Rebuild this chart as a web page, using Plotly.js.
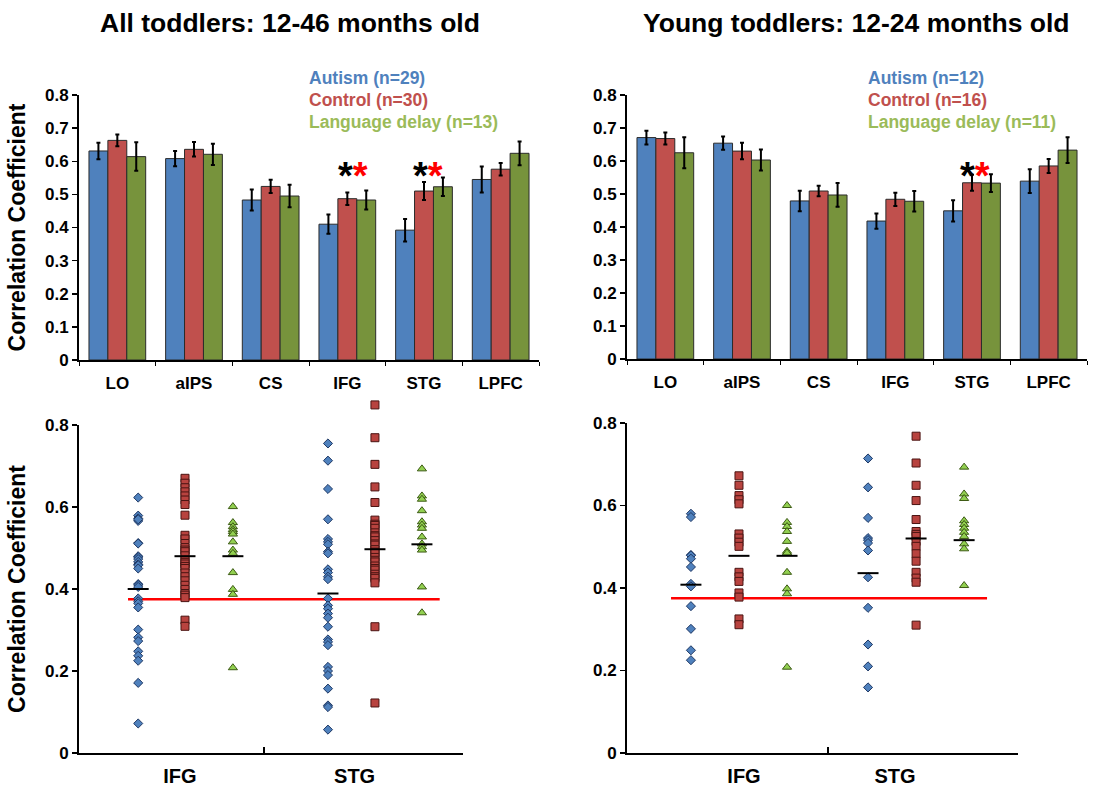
<!DOCTYPE html>
<html>
<head>
<meta charset="utf-8">
<script src="https://cdn.plot.ly/plotly-3.0.1.min.js"></script>
<style>html,body{margin:0;padding:0;background:#fff;}#chart{width:1114px;height:788px;}</style>
</head>
<body>
<div id="chart"></div>
<script>
// ---------------- DATA ----------------
const regions = ['LO', 'aIPS', 'CS', 'IFG', 'STG', 'LPFC'];
const scatterRegions = ['IFG', 'STG'];
const groupNames = ['Autism', 'Control', 'Language delay'];

// All toddlers (12-46 months): bar means and error half-widths
const allAutism = [0.631, 0.608, 0.483, 0.410, 0.392, 0.545];
const allAutismErr = [0.025, 0.023, 0.032, 0.029, 0.034, 0.039];
const allControl = [0.663, 0.636, 0.524, 0.487, 0.510, 0.576];
const allControlErr = [0.018, 0.022, 0.020, 0.019, 0.027, 0.019];
const allDelay = [0.614, 0.621, 0.495, 0.483, 0.523, 0.624];
const allDelayErr = [0.043, 0.032, 0.034, 0.029, 0.028, 0.036];
const allN = [29, 30, 13];

// Young toddlers (12-24 months)
const youngAutism = [0.671, 0.654, 0.479, 0.418, 0.449, 0.539];
const youngAutismErr = [0.021, 0.020, 0.031, 0.023, 0.032, 0.036];
const youngControl = [0.668, 0.630, 0.509, 0.484, 0.534, 0.585];
const youngControlErr = [0.018, 0.025, 0.016, 0.020, 0.024, 0.021];
const youngDelay = [0.625, 0.603, 0.497, 0.478, 0.533, 0.633];
const youngDelayErr = [0.047, 0.032, 0.036, 0.031, 0.027, 0.039];
const youngN = [12, 16, 11];

// Individual correlation coefficients (all toddlers)
const allIFGAutism = [0.623, 0.579, 0.572, 0.566, 0.512, 0.511, 0.480, 0.478, 0.473, 0.466, 0.460, 0.458, 0.450, 0.412, 0.410, 0.405, 0.377, 0.370, 0.365, 0.355, 0.301, 0.282, 0.273, 0.248, 0.237, 0.225, 0.171, 0.072, 0.570];
const allIFGControl = [0.670, 0.658, 0.647, 0.637, 0.627, 0.617, 0.606, 0.580, 0.531, 0.522, 0.511, 0.501, 0.495, 0.491, 0.481, 0.470, 0.465, 0.461, 0.455, 0.450, 0.439, 0.430, 0.420, 0.409, 0.399, 0.389, 0.385, 0.379, 0.324, 0.309];
const allIFGDelay = [0.601, 0.562, 0.552, 0.545, 0.540, 0.534, 0.515, 0.495, 0.487, 0.440, 0.399, 0.387, 0.208];
const allSTGAutism = [0.755, 0.713, 0.644, 0.570, 0.522, 0.515, 0.509, 0.491, 0.487, 0.448, 0.440, 0.430, 0.424, 0.377, 0.360, 0.352, 0.340, 0.330, 0.308, 0.277, 0.271, 0.263, 0.210, 0.200, 0.190, 0.157, 0.116, 0.112, 0.057];
const allSTGControl = [0.849, 0.769, 0.704, 0.649, 0.611, 0.568, 0.558, 0.555, 0.548, 0.537, 0.530, 0.527, 0.518, 0.510, 0.507, 0.496, 0.490, 0.487, 0.477, 0.470, 0.466, 0.456, 0.450, 0.446, 0.436, 0.430, 0.426, 0.415, 0.308, 0.122];
const allSTGDelay = [0.693, 0.627, 0.619, 0.591, 0.564, 0.556, 0.548, 0.527, 0.510, 0.503, 0.495, 0.405, 0.342];
// group means drawn as dashes (all toddlers): [IFG, STG]
const allMeanAutism = [0.400, 0.389];
const allMeanControl = [0.480, 0.497];
const allMeanDelay = [0.480, 0.509];

// Individual correlation coefficients (young toddlers)
const youngIFGAutism = [0.580, 0.572, 0.480, 0.479, 0.471, 0.451, 0.410, 0.404, 0.356, 0.301, 0.249, 0.225];
const youngIFGControl = [0.672, 0.649, 0.624, 0.614, 0.604, 0.531, 0.521, 0.511, 0.501, 0.438, 0.427, 0.416, 0.388, 0.378, 0.325, 0.311];
const youngIFGDelay = [0.600, 0.559, 0.549, 0.537, 0.513, 0.489, 0.485, 0.438, 0.398, 0.386, 0.208];
const youngSTGAutism = [0.714, 0.644, 0.570, 0.521, 0.516, 0.509, 0.491, 0.426, 0.352, 0.263, 0.210, 0.159];
const youngSTGControl = [0.768, 0.703, 0.649, 0.612, 0.566, 0.537, 0.530, 0.525, 0.513, 0.501, 0.483, 0.465, 0.438, 0.424, 0.414, 0.310];
const youngSTGDelay = [0.693, 0.628, 0.617, 0.563, 0.554, 0.545, 0.535, 0.525, 0.507, 0.495, 0.406];
const youngMeanAutism = [0.408, 0.436];
const youngMeanControl = [0.478, 0.520];
const youngMeanDelay = [0.478, 0.516];

const threshold = 0.375;
const panelTitles = ['All toddlers: 12-46 months old', 'Young toddlers: 12-24 months old'];
const yTitle = 'Correlation Coefficient';

// ---------------- STYLE / LAYOUT CONFIG ----------------
const FONT = 'Liberation Sans, Arial, sans-serif';
const barColors = ['#4f81bd', '#c0504d', '#77933c'];
const legendColors = ['#4f81bd', '#c0504d', '#9bbb59'];
const markerFill = ['#4f81bd', '#b8433f', '#92d050'];
const markerLine = ['#1f3864', '#4a1412', '#3c5a14'];
const markerSymbol = ['diamond', 'square', 'triangle-up'];
const markerSize = [7, 8, 8];

// positions of the dot columns along the scatter x axes (in axis units)
// left panel markers live on a hidden y axis with the same scale but a taller range,
// so that values above 0.8 stay visible while the drawn axis stops at 0.8
const scatterCfg = [
  {xa: 'x3', ya: 'y5', groupX: [[0.32, 0.573, 0.832], [1.346, 1.6, 1.854]], labelX: [0.546, 1.49], range: [0, 2.076], bounds: [1, 2.076], redX: [0.265, 1.95]},
  {xa: 'x4', ya: 'y4', groupX: [[0.318, 0.557, 0.796], [1.199, 1.438, 1.677]], labelX: [0.582, 1.333], range: [0, 1.945], bounds: [1, 1.945], redX: [0.219, 1.791]}
];

const traces = [];

function addBars(vals, errs, xa, ya) {
  vals.forEach((v, g) => {
    traces.push({
      type: 'bar', x: regions, y: v, xaxis: xa, yaxis: ya, name: groupNames[g], showlegend: false,
      marker: {color: barColors[g], line: {color: '#2b2b2b', width: 1}},
      error_y: {type: 'data', array: errs[g], visible: true, color: '#000', thickness: 2, width: 2}
    });
  });
}
addBars([allAutism, allControl, allDelay], [allAutismErr, allControlErr, allDelayErr], 'x', 'y');
addBars([youngAutism, youngControl, youngDelay], [youngAutismErr, youngControlErr, youngDelayErr], 'x2', 'y2');

function addScatter(cfg, sets, means) {
  traces.push({
    type: 'scatter', mode: 'lines', x: cfg.redX, y: [threshold, threshold], xaxis: cfg.xa, yaxis: cfg.ya,
    showlegend: false, line: {color: '#ff0000', width: 2.5}, hoverinfo: 'skip'
  });
  for (let g = 0; g < 3; g++) {
    const xs = [], ys = [];
    sets.forEach((reg, r) => reg[g].forEach(v => { xs.push(cfg.groupX[r][g]); ys.push(v); }));
    traces.push({
      type: 'scatter', mode: 'markers', x: xs, y: ys, xaxis: cfg.xa, yaxis: cfg.ya, showlegend: false, cliponaxis: false,
      name: groupNames[g],
      marker: {symbol: markerSymbol[g], size: markerSize[g], color: markerFill[g], line: {color: markerLine[g], width: 1}}
    });
  }
  const mx = [], my = [];
  for (let r = 0; r < 2; r++) for (let g = 0; g < 3; g++) { mx.push(cfg.groupX[r][g]); my.push(means[g][r]); }
  traces.push({
    type: 'scatter', mode: 'markers', x: mx, y: my, xaxis: cfg.xa, yaxis: cfg.ya, showlegend: false, name: 'mean',
    marker: {symbol: 'line-ew', size: 15, line: {color: '#000', width: 2}}
  });
}
addScatter(scatterCfg[0],
  [[allIFGAutism, allIFGControl, allIFGDelay], [allSTGAutism, allSTGControl, allSTGDelay]],
  [allMeanAutism, allMeanControl, allMeanDelay]);
addScatter(scatterCfg[1],
  [[youngIFGAutism, youngIFGControl, youngIFGDelay], [youngSTGAutism, youngSTGControl, youngSTGDelay]],
  [youngMeanAutism, youngMeanControl, youngMeanDelay]);

// empty traces so that the axis-only subplots are drawn
traces.push({type: 'scatter', mode: 'markers', x: [], y: [], xaxis: 'x3', yaxis: 'y3', showlegend: false});
traces.push({type: 'scatter', mode: 'markers', x: [], y: [], xaxis: 'x5', yaxis: 'y3', showlegend: false});
traces.push({type: 'scatter', mode: 'markers', x: [], y: [], xaxis: 'x6', yaxis: 'y4', showlegend: false});

const W = 1114, H = 788;
const px = v => v / W, py = v => 1 - v / H;
const scatPxPerUnit = (753 - 425) / 0.8;
const tallTop = 0.88;

const tickFont = {family: FONT, size: 17, color: '#000', weight: 'bold'};
const baseY = {
  showgrid: false, zeroline: false, showline: true, linecolor: '#000', linewidth: 2,
  ticks: 'outside', ticklen: 5, tickwidth: 1.5, tickcolor: '#000', tickfont: tickFont, fixedrange: true
};
const barX = {
  type: 'category', showgrid: false, zeroline: false, showline: true, linecolor: '#000', linewidth: 2,
  ticks: 'outside', tickson: 'boundaries', ticklen: 4, tickwidth: 1, tickcolor: '#000',
  tickfont: tickFont, ticklabelstandoff: 7, fixedrange: true
};
const scatX = {
  type: 'linear', showgrid: false, zeroline: false, showline: true, linecolor: '#000', linewidth: 2,
  ticks: '', tickfont: {family: FONT, size: 20, color: '#000', weight: 'bold'}, ticklabelstandoff: 4,
  tickmode: 'array', ticktext: scatterRegions, fixedrange: true
};
const yTitleObj = {text: yTitle, font: {family: FONT, size: 23, color: '#000', weight: 'bold'}, standoff: 13};

const layout = {
  width: W, height: H, margin: {l: 0, r: 0, t: 0, b: 0}, paper_bgcolor: '#fff', plot_bgcolor: 'rgba(0,0,0,0)',
  font: {family: FONT}, showlegend: false, bargap: 0.26, bargroupgap: 0, barmode: 'group', hovermode: false,
  xaxis: Object.assign({}, barX, {domain: [px(79), px(539)], anchor: 'y'}),
  yaxis: Object.assign({}, baseY, {domain: [py(360), py(95)], range: [0, 0.8], dtick: 0.1, tick0: 0, anchor: 'x', title: yTitleObj}),
  xaxis2: Object.assign({}, barX, {domain: [px(627), px(1087)], anchor: 'y2'}),
  yaxis2: Object.assign({}, baseY, {domain: [py(359), py(95)], range: [0, 0.8], dtick: 0.1, tick0: 0, anchor: 'x2'}),
  xaxis3: Object.assign({}, scatX, {domain: [px(79), px(463)], anchor: 'y3', range: scatterCfg[0].range, tickvals: scatterCfg[0].labelX}),
  yaxis3: Object.assign({}, baseY, {domain: [py(753), py(425)], range: [0, 0.8], dtick: 0.2, tick0: 0, anchor: 'x3', title: yTitleObj}),
  yaxis5: {domain: [py(753), py(753 - tallTop * scatPxPerUnit)], range: [0, tallTop], anchor: 'x3', visible: false, fixedrange: true},
  xaxis4: Object.assign({}, scatX, {domain: [px(627), px(1018)], anchor: 'y4', range: scatterCfg[1].range, tickvals: scatterCfg[1].labelX}),
  yaxis4: Object.assign({}, baseY, {domain: [py(753), py(423)], range: [0, 0.8], dtick: 0.2, tick0: 0, anchor: 'x4'}),
  xaxis5: {overlaying: 'x3', anchor: 'y3', range: scatterCfg[0].range, showline: false, showgrid: false, zeroline: false,
    tickmode: 'array', tickvals: scatterCfg[0].bounds, ticks: 'inside', ticklen: 6, tickwidth: 1.5, tickcolor: '#000', showticklabels: false, fixedrange: true},
  xaxis6: {overlaying: 'x4', anchor: 'y4', range: scatterCfg[1].range, showline: false, showgrid: false, zeroline: false,
    tickmode: 'array', tickvals: scatterCfg[1].bounds, ticks: 'inside', ticklen: 6, tickwidth: 1.5, tickcolor: '#000', showticklabels: false, fixedrange: true},
  annotations: []
};

// panel titles
[[290, panelTitles[0]], [856, panelTitles[1]]].forEach(([cx, t]) => {
  layout.annotations.push({xref: 'paper', yref: 'paper', x: px(cx), y: py(23), text: t, showarrow: false,
    xanchor: 'center', yanchor: 'middle', font: {family: FONT, size: 26.5, color: '#000', weight: 'bold'}});
});
// legends as coloured text
[[309, allN], [868, youngN]].forEach(([lx, ns]) => {
  groupNames.forEach((gname, g) => {
    layout.annotations.push({xref: 'paper', yref: 'paper', x: px(lx - 2), y: py(78 + 22 * g), text: gname + ' (n=' + ns[g] + ')',
      showarrow: false, xanchor: 'left', yanchor: 'middle', font: {family: FONT, size: 17.5, color: legendColors[g], weight: 'bold'}});
  });
});
// significance asterisks
const starText = '*<span style="color:#ff0000">*</span>';
[['x', 'y', 'IFG', 6], ['x', 'y', 'STG', 4], ['x2', 'y2', 'STG', 3]].forEach(([xa, ya, reg, sh]) => {
  layout.annotations.push({xref: xa, yref: ya, x: reg, y: 0.555, xshift: sh, text: starText, showarrow: false,
    xanchor: 'center', yanchor: 'middle', font: {family: FONT, size: 38, color: '#000', weight: 'bold'}});
});

Plotly.newPlot('chart', traces, layout, {staticPlot: true, displayModeBar: false});
</script>
</body>
</html>
